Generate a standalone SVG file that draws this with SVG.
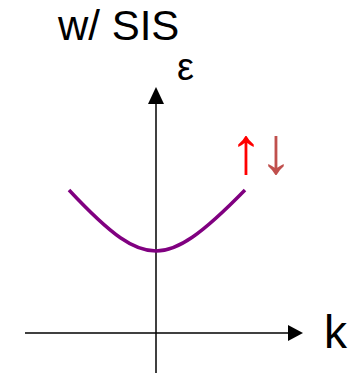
<svg xmlns="http://www.w3.org/2000/svg" width="353" height="373" viewBox="0 0 353 373">
<style>
.ax{stroke:#000;stroke-width:1.5;fill:none}
.lbl{font-family:"Liberation Sans",Arial,sans-serif;fill:#000}
.spin{font-family:"Liberation Sans",Arial,sans-serif;font-size:66px;text-anchor:middle}
</style>
<rect width="353" height="373" fill="#fff"/>
<g id="connectors">
<path class="ax" d="M156,373 V104" />
<polygon points="156,87 148,104 164,104" fill="#000"/>
<path class="ax" d="M25,333 H288" />
<polygon points="303,333 288,325 288,341" fill="#000"/>
</g>
<g id="curve">
<path d="M69,190 C112,236 134,251 156,251 C178,251 202,234 245,190" stroke="#800080" stroke-width="3.5" fill="none"/>
</g>
<g id="title"><text class="lbl" x="58" y="40" font-size="42">w/ SIS</text></g>
<g id="eps"><text class="lbl" x="177" y="80" font-size="38">ε</text></g>
<g id="k"><text class="lbl" x="324" y="348" font-size="46">k</text></g>
<g id="spin">
<text class="spin" x="246" y="173" fill="#ff0000">↑</text>
<text class="spin" x="276" y="173" fill="#c0504d">↓</text>
</g>
</svg>
